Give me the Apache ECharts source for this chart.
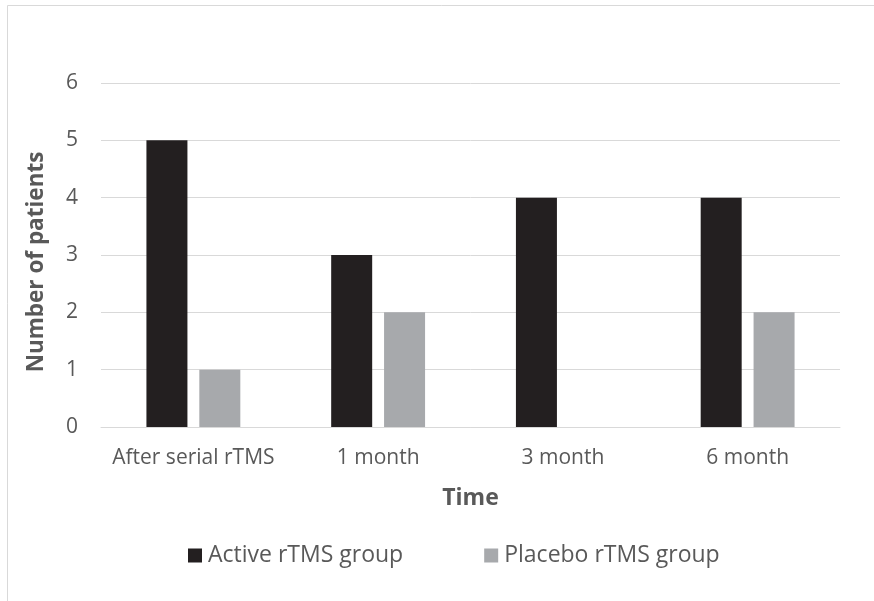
<!DOCTYPE html>
<html>
<head>
<meta charset="utf-8">
<script src="https://cdn.jsdelivr.net/npm/echarts@6/dist/echarts.min.js"></script>
<style>
  html, body { margin: 0; padding: 0; background: #ffffff; }
  #chart { width: 874px; height: 601px; }
</style>
</head>
<body>
<div id="chart"></div>
<script>
// Time points after treatment
const categories = ['After serial rTMS', '1 month', '3 month', '6 month'];
// Number of patients per group at each time point
const activeValues = [5, 3, 4, 4];
const placeboValues = [1, 2, 0, 2];
const seriesNames = ['Active rTMS group', 'Placebo rTMS group'];
const yTicks = { min: 0, max: 6, interval: 1 };

const FONT = '"Open Sans", "Liberation Sans", sans-serif';
const TEXT = '#595959';

const chart = echarts.init(document.getElementById('chart'), null, { renderer: 'canvas' });

chart.setOption({
  backgroundColor: '#ffffff',
  animation: false,
  textStyle: { fontFamily: FONT },
  graphic: [{
    type: 'rect',
    shape: { x: 7.5, y: 5.5, width: 900, height: 640 },
    style: { fill: 'none', stroke: '#d9d9d9', lineWidth: 1 },
    silent: true
  }],
  grid: { left: 101, right: 34, top: 83, bottom: 174, containLabel: false },
  legend: {
    data: seriesNames,
    left: 188, top: 544,
    padding: 0,
    itemWidth: 14, itemHeight: 14, itemGap: 81,
    icon: 'rect',
    textStyle: { color: TEXT, fontSize: 23, fontFamily: FONT, padding: [0, 0, 0, 1] }
  },
  xAxis: {
    type: 'category',
    data: categories,
    name: 'Time',
    nameLocation: 'middle',
    nameGap: 60,
    nameTextStyle: { color: TEXT, fontSize: 23, fontWeight: 'bold', fontFamily: FONT },
    axisLine: { show: true, lineStyle: { color: '#d9d9d9', width: 1 } },
    axisTick: { show: false },
    axisLabel: { color: TEXT, fontSize: 21, margin: 21, interval: 0, fontFamily: FONT }
  },
  yAxis: {
    type: 'value',
    min: yTicks.min, max: yTicks.max, interval: yTicks.interval,
    name: 'Number of patients',
    nameLocation: 'middle',
    nameGap: 53,
    nameTextStyle: { color: TEXT, fontSize: 22.5, fontWeight: 'bold', fontFamily: FONT, padding: [0, 14, 0, 0] },
    axisLine: { show: false },
    axisTick: { show: false },
    splitLine: { lineStyle: { color: '#d9d9d9', width: 1 } },
    axisLabel: { color: TEXT, fontSize: 21, margin: 23, fontFamily: FONT }
  },
  series: [
    {
      name: seriesNames[0], type: 'bar', data: activeValues,
      barWidth: 41, barGap: '29%',
      itemStyle: { color: '#231f20' }
    },
    {
      name: seriesNames[1], type: 'bar', data: placeboValues,
      barWidth: 41,
      itemStyle: { color: '#a7a9ac' }
    }
  ]
});
</script>
</body>
</html>
